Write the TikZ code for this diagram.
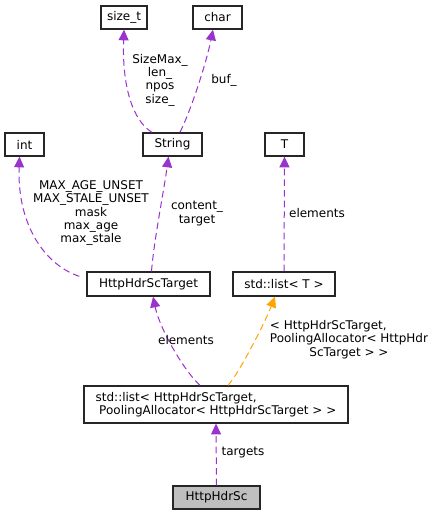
\documentclass[tikz,border=0pt]{standalone}
\usepackage{fontspec}
\setmainfont{DejaVu Sans}
\usetikzlibrary{arrows.meta}
\definecolor{edgep}{HTML}{9A32CD}
\definecolor{edgeo}{HTML}{FFA500}
\begin{document}
\begin{tikzpicture}[x=0.75pt,y=-0.75pt,
  box/.style={draw=black!85, line width=1pt, inner sep=0pt, font=\fontsize{9}{10}\selectfont, text=black, align=center},
  lab/.style={font=\fontsize{9}{10}\selectfont, align=center, inner sep=0pt, text=black},
  dep/.style={draw=edgep, line width=0.75pt, dash pattern=on 5pt off 3pt, -{Triangle[length=8pt,width=7.5pt,fill=edgep]}},
  tmpl/.style={draw=edgeo, line width=0.75pt, dash pattern=on 5pt off 3pt, -{Triangle[length=8pt,width=7.5pt,fill=edgeo]}}]
\useasboundingbox (0,0) rectangle (434,516);
\fill[white] (0,0) rectangle (434,516);
% nodes
\node[box, minimum width=34.5pt, minimum height=17.25pt] (sizet) at (124,17.5) {size\_t};
\node[box, minimum width=36.75pt, minimum height=17.25pt] (char) at (217.5,17.5) {char};
\node[box, minimum width=29.25pt, minimum height=17.25pt] (int) at (24.5,144.5) {int};
\node[box, minimum width=44.25pt, minimum height=17.25pt] (string) at (172.5,144.5) {String};
\node[box, minimum width=29.25pt, minimum height=17.25pt] (T) at (284.5,144.5) {T};
\node[box, minimum width=92.25pt, minimum height=18pt] (target) at (148.5,284) {HttpHdrScTarget};
\node[box, minimum width=76.5pt, minimum height=18pt] (listT) at (284,284) {std::list< T >};
\node[box, minimum width=198pt, minimum height=27.75pt, align=left] (biglist) at (216,404.5) {std::list< HttpHdrScTarget,\\\hspace{0.3em}PoolingAllocator< HttpHdrScTarget > >};
\node[box, fill=black!25, minimum width=65.25pt, minimum height=17.25pt] (sc) at (216.5,497.5) {HttpHdrSc};
% edges
\draw[dep] ([xshift=-15.4pt]string.north) .. controls (132,120) and (122,85) .. (sizet.south);
\draw[dep] ([xshift=5.6pt]string.north) .. controls (192,108) and (207,60) .. ([xshift=-3.4pt]char.south);
\draw[dep] ([xshift=-5.25pt,yshift=-3.75pt]target.north west) .. controls (45,265) and (17,225) .. ([xshift=-3.75pt]int.south);
\draw[dep] ([xshift=2.25pt]target.north) .. controls (154,240) and (164,190) .. ([xshift=-3pt]string.south);
\draw[dep] (listT.north) -- (T.south);
\draw[dep] ([xshift=-12pt]biglist.north) .. controls (185,372) and (160,330) .. ([xshift=3.4pt]target.south);
\draw[tmpl] ([xshift=9pt]biglist.north) .. controls (240,372) and (266,320) .. ([xshift=-6.75pt]listT.south);
\draw[dep] (sc.north) -- (biglist.south);
% labels
\node[lab] (l1) at (160,80) {SizeMax\_\\len\_\\npos\\size\_};
\node[lab] (l2) at (224,80) {buf\_};
\node[lab] (l3) at (91,213) {MAX\_AGE\_UNSET\\MAX\_STALE\_UNSET\\mask\\max\_age\\max\_stale};
\node[lab] (l4) at (197,213.5) {content\_\\target};
\node[lab] (l5) at (317,213) {elements};
\node[lab] (l6) at (186,340) {elements};
\node[lab] (l7) at (349,340) {\begin{tabular}{@{}l@{}}< HttpHdrScTarget,\\PoolingAllocator< HttpHdr\\\multicolumn{1}{@{}c@{}}{ScTarget > >}\end{tabular}};
\node[lab] (l8) at (243,453) {targets};
\end{tikzpicture}
\end{document}
